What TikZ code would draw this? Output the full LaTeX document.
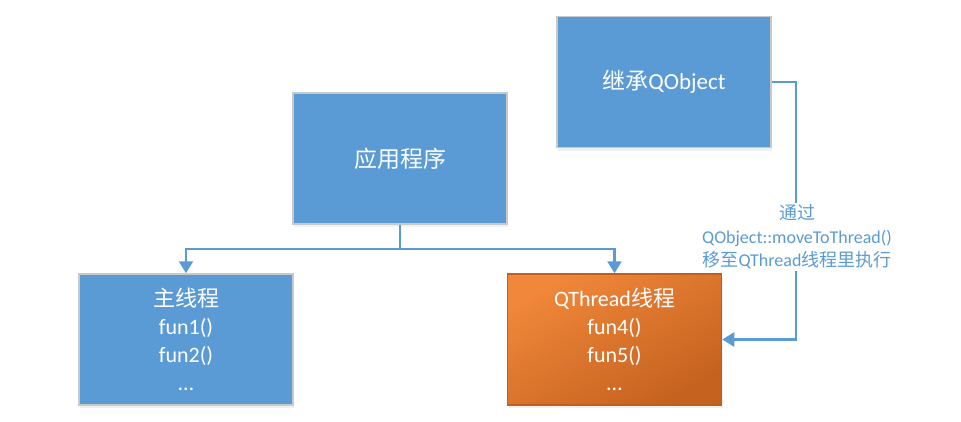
\documentclass[tikz,border=0pt]{standalone}
\usepackage{fontspec}
\setmainfont{Carlito}
\newfontfamily\cjk{Noto Sans CJK SC}
\usetikzlibrary{arrows.meta,shadows}
\definecolor{boxblue}{HTML}{5B9BD5}
\definecolor{boxedge}{HTML}{C9C9C9}
\definecolor{orangetop}{HTML}{F0873A}
\definecolor{orangebot}{HTML}{C5621F}
\definecolor{orangeedge}{HTML}{BE5F1E}
\tikzset{
  block/.style={draw=boxedge,line width=1.5pt,fill=boxblue,text=white,
    minimum width=214pt,minimum height=131pt,align=center,inner sep=0pt,
    drop shadow={opacity=0.12,shadow xshift=1pt,shadow yshift=-3pt}},
  hotblock/.style={block,draw=orangeedge,top color=orangetop,bottom color=orangebot,
    shading angle=30},
  link/.style={draw=boxblue,line width=2.5pt},
  arr/.style={link,-{Triangle[width=14pt,length=12pt]}}
}
\begin{document}
\begin{tikzpicture}[x=1pt,y=-1pt]
  \useasboundingbox (0,0) rectangle (961,421);
  \node[block,font=\fontsize{23}{26}\selectfont] (qobj) at (664,82) {{\cjk 继承}QObject};
  \node[block,font=\fontsize{23}{26}\selectfont\cjk] (app) at (400,158.5) {应用程序};
  \node[block,font=\fontsize{22}{28}\selectfont] (mainth) at (186,339.5)
    {{\cjk 主线程}\\fun1()\\fun2()\\…};
  \node[hotblock,font=\fontsize{22}{28}\selectfont] (qth) at (614.5,339.5)
    {QThread{\cjk 线程}\\fun4()\\fun5()\\…};
  \draw[link] (app.south) -- ++(0,24) coordinate (split);
  \draw[arr] (split) -| (mainth.north);
  \draw[arr] (split) -| (qth.north);
  \draw[arr] (qobj.east) -- ++(24,0) coordinate (bend) |- (qth.east);
  \node[fill=white,text=boxblue,align=center,inner sep=2pt,
    font=\fontsize{18}{23.5}\selectfont] (via) at (797,237)
    {{\cjk 通过}\\QObject::moveToThread()\\{\cjk 移至}QThread{\cjk 线程里执行}};
\end{tikzpicture}
\end{document}
